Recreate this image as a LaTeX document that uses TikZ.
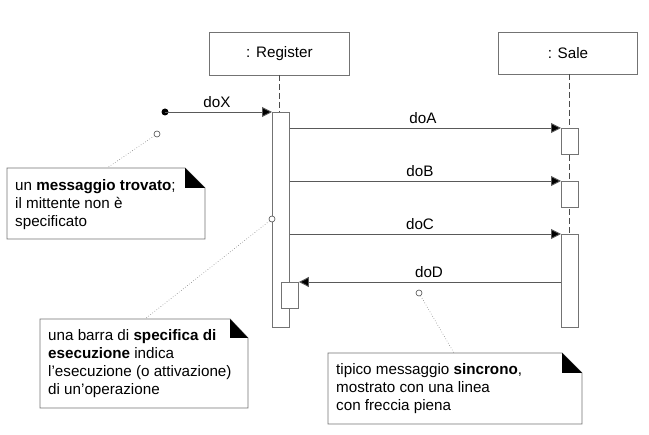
\documentclass[tikz,border=0pt]{standalone}
\usepackage{fontspec}
\setmainfont{Liberation Sans}
\usetikzlibrary{arrows.meta}
\begin{document}
\begin{tikzpicture}[x=1pt,y=-1pt,
  font=\fontsize{15.2}{18}\selectfont,
  lbox/.style={draw=black!55, line width=0.9pt, fill=white, inner sep=0pt, anchor=north west},
  bar/.style={draw=black!55, line width=0.9pt, fill=white, inner sep=0pt, minimum width=17pt, anchor=north west},
  life/.style={draw=black!70, dashed, dash pattern=on 6pt off 3pt, line width=0.7pt},
  msg/.style={draw=black!65, line width=0.9pt, -{Triangle[length=10pt,width=10pt,fill=black]}},
  mlabel/.style={inner sep=0pt, anchor=base},
  dotline/.style={draw=black!50, dotted, line width=0.6pt},
  pin/.style={draw=black!70, fill=white, circle, inner sep=0pt, minimum size=6pt, line width=0.6pt},
  notetext/.style={inner sep=0pt, anchor=base west},
  notebox/.style={draw=black!55, line width=0.9pt, fill=white},
  fold/.style={fill=black}
]
\useasboundingbox (0,0) rectangle (649,435);

% lifeline heads
\node[lbox, minimum width=140pt, minimum height=43pt] (reg) at (209,32) {};
\node at (reg.center) {: Register};
\node[lbox, minimum width=139pt, minimum height=42pt] (sale) at (498,32) {};
\node at (sale.center) {: Sale};

% lifelines (dashed)
\coordinate (regtop) at (279,75);
\coordinate (saletop) at (569.5,74);
\coordinate (salebot) at (569.5,234);
\draw[life] (regtop) -- (279,112);
\draw[life] (saletop) -- (salebot);

% execution bars
\node[bar, minimum height=215pt] (rb) at (272,112) {};
\node[bar, minimum height=26pt] (sa) at (561,128) {};
\node[bar, minimum height=26pt] (sb) at (561,181) {};
\node[bar, minimum height=93pt] (sc) at (561,234) {};
\node[bar, minimum height=26pt] (rd) at (281,282) {};

% found message
\coordinate (found) at (165,112);
\fill (found) circle (3.5pt);
\draw[msg] (found) -- (rb.north west);
\node[mlabel] (lx) at (217,108) {doX};

% messages
\draw[msg] (rb.east |- sa.north) -- (sa.north west);
\node[mlabel] (la) at (423,124) {doA};
\draw[msg] (rb.east |- sb.north) -- (sb.north west);
\node[mlabel] (lb) at (420,177) {doB};
\draw[msg] (rb.east |- sc.north) -- (sc.north west);
\node[mlabel] (lc) at (420,230) {doC};
\draw[msg] (sc.west |- rd.north) -- (rd.north east);
\node[mlabel] (ld) at (429,278) {doD};

% note 1
\draw[notebox] (7,168) -- (185,168) -- (205,188) -- (205,239) -- (7,239) -- cycle;
\fill[fold] (185,168) -- (185,188) -- (205,188) -- cycle;
\node[notetext] (n1) at (15,191) {\parbox[t]{190pt}{un \textbf{messaggio trovato};\\il mittente non è\\specificato}};
\coordinate (n1top) at (107,168);
\node[pin] (p1) at (157,134) {};
\draw[dotline] (p1) -- (n1top);

% note 2
\draw[notebox] (40,319) -- (230,319) -- (248,338) -- (248,408) -- (40,408) -- cycle;
\fill[fold] (230,319) -- (230,338) -- (248,338) -- cycle;
\node[notetext] (n2) at (48,341) {\parbox[t]{200pt}{una barra di \textbf{specifica di}\\\textbf{esecuzione} indica\\l’esecuzione (o attivazione)\\di un’operazione}};
\coordinate (n2top) at (145,319);
\node[pin] (p2) at (272,219) {};
\draw[dotline] (p2) -- (n2top);

% note 3
\draw[notebox] (328,353) -- (562,353) -- (582,373) -- (582,424) -- (328,424) -- cycle;
\fill[fold] (562,353) -- (562,373) -- (582,373) -- cycle;
\node[notetext] (n3) at (336,375) {\parbox[t]{240pt}{tipico messaggio \textbf{sincrono},\\mostrato con una linea\\con freccia piena}};
\coordinate (n3top) at (454,353);
\node[pin] (p3) at (419,293) {};
\draw[dotline] (p3) -- (n3top);
\end{tikzpicture}
\end{document}
